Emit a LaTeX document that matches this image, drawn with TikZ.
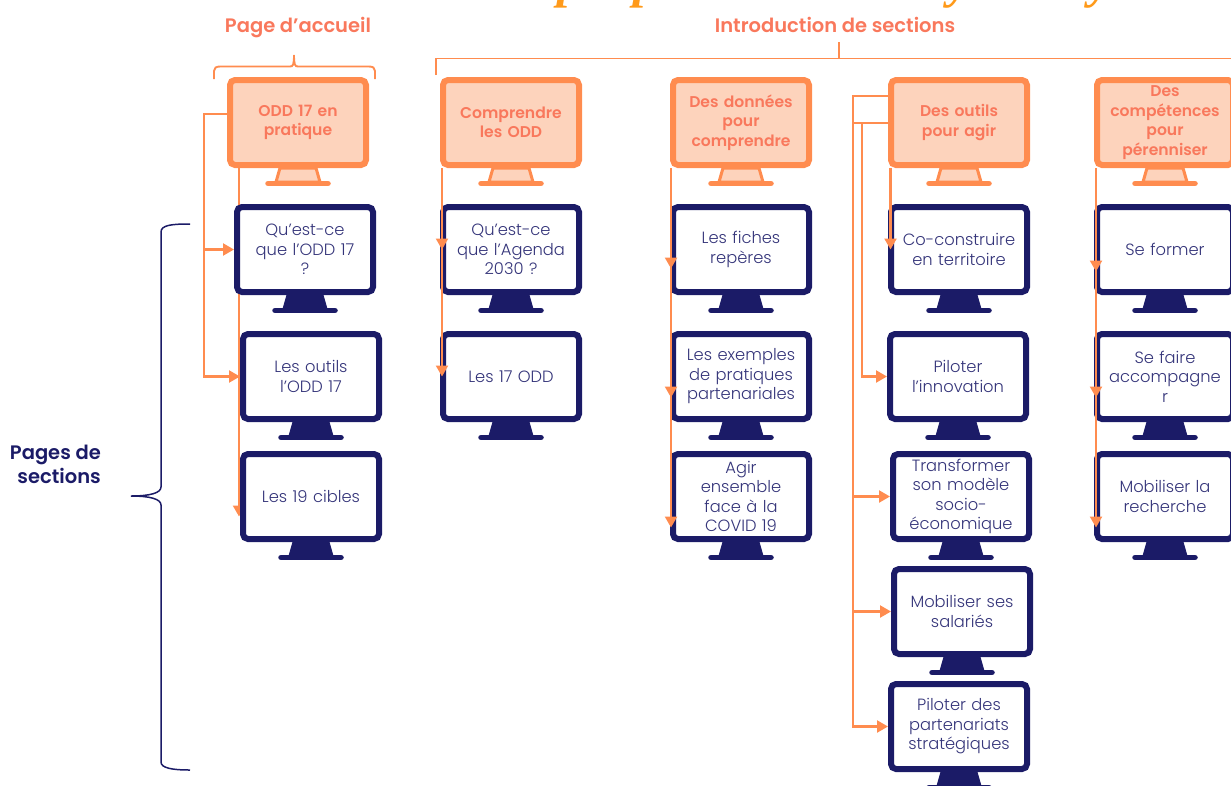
\documentclass[tikz,border=0pt]{standalone}
\usepackage{fontspec}
\setmainfont{Poppins}[UprightFont={* Light},BoldFont={* SemiBold}]
\newfontfamily\titlefont{Liberation Serif}
\usetikzlibrary{arrows.meta,calc}
\pgfdeclarelayer{behind}
\pgfsetlayers{behind,main}
\normallineskiplimit=-30pt
\lineskiplimit=-30pt
\definecolor{navy}{HTML}{1B1B67}
\definecolor{navytxt}{HTML}{35357A}
\definecolor{orangeln}{HTML}{FF8C4F}
\definecolor{orangefl}{HTML}{FDD3BC}
\definecolor{orangetx}{HTML}{F9785C}
\definecolor{titleor}{HTML}{FF9A1A}
\tikzset{
  secscreen/.style={draw=navy,fill=white,line width=6pt,rounded corners=5pt,minimum width=136pt,minimum height=85pt,
    inner sep=0pt,text width=136pt,align=center,text=navytxt,font=\fontsize{16.3}{19.5}\selectfont},
  hdrscreen/.style={draw=orangeln,fill=orangefl,line width=6pt,rounded corners=5pt,minimum width=136pt,minimum height=85pt,
    inner sep=0pt,text width=136pt,align=center,text=orangetx,font=\fontsize{15.6}{19.5}\selectfont\bfseries},
  secstand/.style={draw=navy,fill=navy,line width=1pt,line join=round},
  hdrstand/.style={draw=orangeln,fill=orangefl,line width=3pt,line join=round},
  secbar/.style={draw=navy,line width=5.5pt,line cap=round},
  hdrbar/.style={draw=orangeln,line width=5.5pt,line cap=round},
  conn/.style={draw=orangeln,line width=2.2pt},
  arr/.style={conn,-{Triangle[length=11pt,width=12pt]}},
  brk/.style={draw=orangeln,line width=1.9pt},
  navybrace/.style={draw=navy,line width=1.5pt},
  grouplabel/.style={text=orangetx,anchor=base,font=\fontsize{19.5}{22}\selectfont\bfseries},
  sidelabel/.style={text=navy,align=right,inner sep=0pt,font=\fontsize{19.5}{24}\selectfont\bfseries},
  titlebit/.style={text=titleor,inner sep=0pt,anchor=base,font=\fontsize{50}{54}\selectfont\titlefont\bfseries\itshape}
}
\newcommand\mon[5]{%
  \node[#4screen] (#1) at (#2+71,#3+45.5) {#5};
  \draw[#4stand] ([xshift=-18pt]#1.south) -- ([xshift=18pt]#1.south) -- ([xshift=22pt,yshift=-14pt]#1.south) -- ([xshift=-22pt,yshift=-14pt]#1.south) -- cycle;
  \draw[#4bar] ([xshift=-30pt,yshift=-15.5pt]#1.south) -- ([xshift=30pt,yshift=-15.5pt]#1.south);
}
\begin{document}
\begin{tikzpicture}[x=1pt,y=-1pt]
\useasboundingbox (0,0) rectangle (1231,785);
\clip (0,0) rectangle (1231,785);
% cropped title above the picture
\node[titlebit] (ta) at (570,-3) {p};
\node[titlebit] (tb) at (646,-3) {p};
\node[titlebit] (tc) at (960,-3) {y};
\node[titlebit] (td) at (1101,-3) {y};
% group labels and brackets
\node[grouplabel] (lpa) at (298,32) {Page d’accueil};
\node[grouplabel] (lis) at (835,32) {Introduction de sections};
\draw[brk] (214,79) -- (214,71) .. controls (214,68) and (216,66.5) .. (220,66.5) -- (290,66.5) .. controls (293,66.5) and (294,65) .. (294,55);
\draw[brk] (294,55) .. controls (294,65) and (295,66.5) .. (298,66.5) -- (369,66.5) .. controls (373,66.5) and (375,68) .. (375,71) -- (375,79);
\draw[brk] (436,75) -- (436,58.5) -- (1231,58.5);
\draw[brk] (839,42) -- (839,58.5);
\node[sidelabel,anchor=east] (lps) at (101,464) {Pages de\\sections};
\draw[navybrace] (190,224) .. controls (172,224) and (161,225) .. (161,232) -- (161,487)
  .. controls (161,493) and (150,496) .. (131,496)
  .. controls (150,496) and (161,499) .. (161,505) -- (161,762)
  .. controls (161,768) and (172,770) .. (190,770);
% column 1
\mon{ha}{227}{77}{hdr}{ODD 17 en\\pratique}
\mon{aa}{234}{204}{sec}{Qu’est-ce\\que l’ODD 17\\?}
\mon{ab}{240}{331}{sec}{Les outils\\l’ODD 17}
\mon{ac}{240}{451}{sec}{Les 19 cibles}
% column 2
\mon{hb}{440}{77}{hdr}{Comprendre\\les ODD}
\mon{ba}{440}{204}{sec}{Qu’est-ce\\que l’Agenda\\2030 ?}
\mon{bb}{440}{331}{sec}{Les 17 ODD}
% column 3
\mon{hc}{670}{77}{hdr}{Des données\\pour\\comprendre}
\mon{ca}{670}{204}{sec}{Les fiches\\repères}
\mon{cb}{670}{331}{sec}{Les exemples\\de pratiques\\partenariales}
\mon{cc}{670}{451}{sec}{Agir\\ensemble\\face à la\\COVID 19}
% column 4
\mon{hd}{888}{77}{hdr}{Des outils\\pour agir}
\mon{da}{888}{204}{sec}{Co-construire\\en territoire}
\mon{db}{887}{331}{sec}{Piloter\\l’innovation}
\mon{dc}{890}{451}{sec}{Transformer\\son modèle\\socio-\\économique}
\mon{dd}{891}{566}{sec}{Mobiliser ses\\salariés}
\mon{de}{888}{681}{sec}{Piloter des\\partenariats\\stratégiques}
% column 5
\mon{he}{1094}{77}{hdr}{Des\\compétences\\pour\\pérenniser}
\mon{ea}{1094}{204}{sec}{Se former}
\mon{eb}{1094}{331}{sec}{Se faire\\accompagne\\r}
\mon{ec}{1094}{451}{sec}{Mobiliser la\\recherche}
% connectors, column 1
\coordinate (ja) at (204,114);
\draw[arr] ([yshift=8.5pt]ha.west) -- (ja) |- (aa.west);
\draw[arr] (ja) |- (ab.west);
\begin{pgfonlayer}{behind}
\draw[arr] ([xshift=12pt]ha.south west) -- ([xshift=-1pt,yshift=-20pt]ac.west);
\end{pgfonlayer}
% column 2
\draw[arr] ([xshift=2pt]hb.south west) -- ([xshift=2pt]ba.west);
\draw[arr] ([xshift=2pt]hb.south west) -- ([xshift=2pt]bb.west);
% column 3
\draw[arr] ([xshift=1pt]hc.south west) -- ([xshift=1pt,yshift=-19pt]ca.west);
\draw[arr] ([xshift=1pt]hc.south west) -- ([xshift=1pt,yshift=-21pt]cb.west);
\draw[arr] ([xshift=1pt]hc.south west) -- ([xshift=1pt,yshift=-31pt]cc.west);
% column 4
\coordinate (jb) at (853,96);
\coordinate (jc) at (862,123);
\coordinate (jd) at (853,123);
\draw[arr] ([xshift=2.5pt]hd.south west) -- ([xshift=2.5pt]da.west);
\draw[conn] ([yshift=26.5pt]hd.west) -- (jb) -- (jd);
\draw[conn] ([yshift=-0.5pt]hd.west) -- (jd);
\draw[arr] (jc) |- (db.west);
\draw[arr] (jd) |- (dc.west);
\draw[arr] (jd) |- (dd.west);
\draw[arr] (jd) |- (de.west);
% column 5
\draw[arr] ([xshift=2pt]he.south west) -- ([xshift=2pt,yshift=-22pt]ea.west);
\draw[arr] ([xshift=2pt]he.south west) -- ([xshift=2pt,yshift=-21pt]eb.west);
\draw[arr] ([xshift=2pt]he.south west) -- ([xshift=2pt,yshift=-31pt]ec.west);
\end{tikzpicture}
\end{document}
